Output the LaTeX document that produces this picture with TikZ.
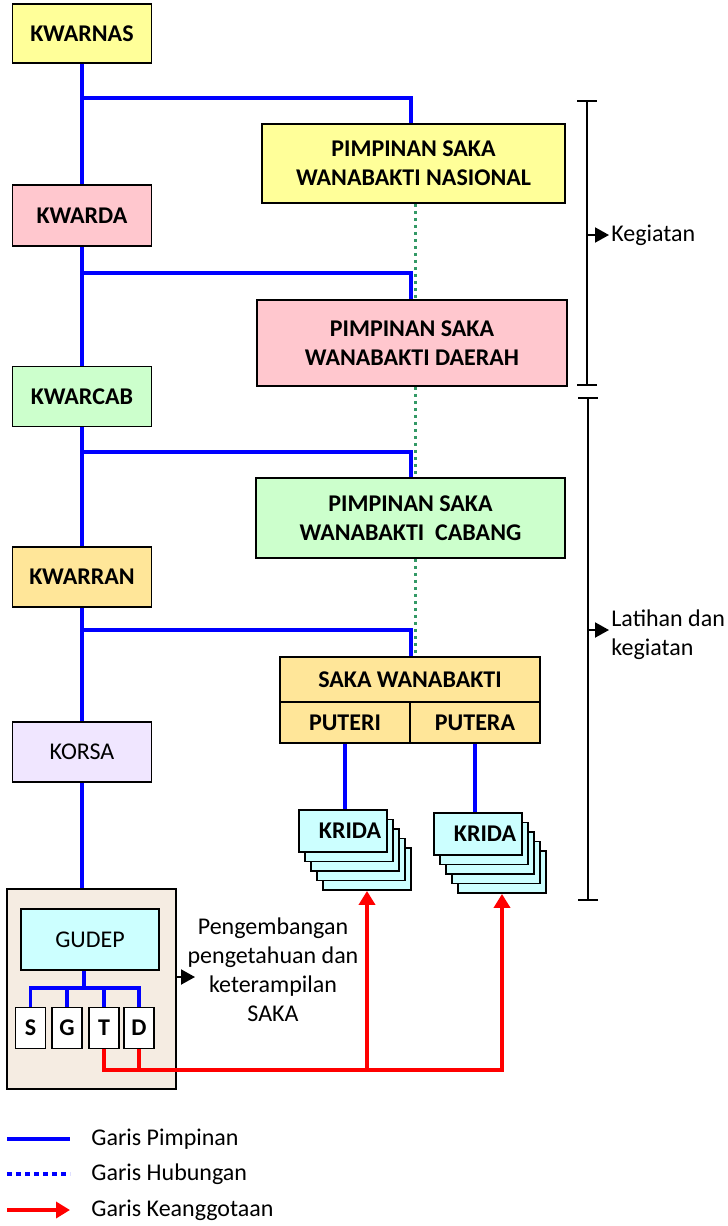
\documentclass[tikz,border=0pt]{standalone}
\usepackage{fontspec}
\setmainfont{Carlito}
\usepackage{tikz}
\usetikzlibrary{positioning}
\usetikzlibrary{arrows.meta}
\usepackage{xcolor}

\definecolor{yellowbox}{HTML}{FFFF99}
\definecolor{pinkbox}{HTML}{FFC7CE}
\definecolor{greenbox}{HTML}{CCFFCC}
\definecolor{orangebox}{HTML}{FFE699}
\definecolor{lilacbox}{HTML}{F0E6FF}
\definecolor{cyanbox}{HTML}{CCFFFF}
\definecolor{linenbox}{HTML}{F5ECE2}
\definecolor{hubgreen}{HTML}{339966}

\begin{document}
\fontsize{12}{14.5}\selectfont
\begin{tikzpicture}[
    x=0.5pt, y=-0.5pt,
    box/.style={draw, line width=0.9pt, inner sep=0pt, align=center, font=\bfseries},
    kwarbox/.style={box, minimum width=69.5pt, minimum height=30pt},
    sakabox/.style={box, minimum width=154.5pt, minimum height=40pt},
    krida/.style={box, fill=cyanbox, minimum width=44pt, minimum height=21pt},
    lead/.style={blue, line width=1.75pt},
    hub/.style={hubgreen, line width=1.6pt, dash pattern=on 1.6pt off 1.9pt},
    hubblue/.style={blue, line width=2pt, dash pattern=on 2.5pt off 2pt},
    member/.style={red, line width=1.75pt},
    memberarrow/.style={-{Triangle[length=7pt,width=8pt]}},
    legmember/.style={member, memberarrow},
    pointer/.style={-{Triangle[length=7pt,width=7.5pt]}, line width=1pt},
    bracket/.style={{Bar[width=10pt]}-{Bar[width=10pt]}, line width=1.2pt}
]
    \useasboundingbox (0,0) rectangle (728,1226);

    % Kwartir column
    \node[kwarbox, fill=yellowbox, minimum height=29.5pt] (kwarnas) at (82,33.5) {KWARNAS};
    \node[kwarbox, fill=pinkbox, minimum height=30.5pt] (kwarda) at (82,215.5) {KWARDA};
    \node[kwarbox, fill=greenbox] (kwarcab) at (82,396.5) {KWARCAB};
    \node[kwarbox, fill=orangebox] (kwarran) at (82,577) {KWARRAN};
    \node[kwarbox, fill=lilacbox, font=\mdseries] (korsa) at (82,752) {KORSA};

    % Pimpinan saka column
    \node[sakabox, fill=yellowbox, minimum width=151.5pt, minimum height=39.5pt] (psn) at (413.5,163.5) {PIMPINAN SAKA\\WANABAKTI NASIONAL};
    \node[sakabox, fill=pinkbox, minimum width=155pt, minimum height=43pt] (psd) at (412,343) {PIMPINAN SAKA\\WANABAKTI DAERAH};
    \node[sakabox, fill=greenbox] (psc) at (410.5,518) {PIMPINAN SAKA\\WANABAKTI~~CABANG};
    \node[box, fill=orangebox, minimum width=130pt, minimum height=22.5pt] (saka) at (410,679.5) {SAKA WANABAKTI};
    \node[box, fill=orangebox, minimum width=65pt, minimum height=20.5pt] (puteri) at (345,722.5) {PUTERI};
    \node[box, fill=orangebox, minimum width=65pt, minimum height=20.5pt] (putera) at (475,722.5) {PUTERA};

    % Krida stacks
    \foreach \k in {4,3,2,1} {
        \node[krida, xshift={3pt*\k}, yshift={-4.75pt*\k}] (krida1-\k) at (343,831) {};
        \node[krida, xshift={3pt*\k}, yshift={-4.75pt*\k}] (krida2-\k) at (478,834) {};
    }
    \node[krida] (krida1) at (343,831) {\hspace*{7pt}KRIDA};
    \node[krida] (krida2) at (478,834) {\hspace*{7pt}KRIDA};

    % Gudep
    \node[box, fill=linenbox, minimum width=84.5pt, minimum height=100pt] (gudepbox) at (91.5,989) {};
    \node[box, fill=cyanbox, font=\mdseries, minimum width=69pt, minimum height=30.5pt] (gudep) at (90,939.5) {GUDEP};
    \foreach \n/\x/\l in {s/30.5/S, g/67/G, t/104/T, d/139/D}
        \node[box, fill=white, minimum width=15pt, minimum height=20.5pt] (\n) at (\x,1028) {\l};

    \node[align=center, inner sep=0pt] (dev) at (273,970) {Pengembangan\\pengetahuan dan\\keterampilan\\SAKA};
    \coordinate (devtip) at (195,977);
    \draw[pointer] (gudepbox.east |- devtip) -- (devtip);

    % Garis pimpinan
    \foreach \a/\b in {kwarnas/kwarda, kwarda/kwarcab, kwarcab/kwarran, kwarran/korsa}
        \draw[lead] (\a.south) -- (\b.north);
    \draw[lead] (korsa.south) -- (korsa.south |- gudepbox.north);

    \coordinate (col) at (411,0);
    \foreach \a/\b/\yy in {kwarnas/psn/98, kwarda/psd/273, kwarcab/psc/452, kwarran/saka/630} {
        \coordinate (\a-j) at (82,\yy);
        \draw[lead] (\a-j) -| (\b.north -| col);
    }
    \draw[lead] (puteri.south) -- (puteri.south |- krida1.north);
    \draw[lead] (putera.south) -- (putera.south |- krida2.north);

    \coordinate (bus) at (84,988);
    \draw[lead] (gudep.south -| bus) -- (bus);
    \draw[lead] (s.north) |- (d.north |- bus) -- (d.north);
    \foreach \n in {g,t}
        \draw[lead] (\n.north) -- (\n.north |- bus);

    % Garis hubungan
    \coordinate (hubcol) at (415.5,0);
    \foreach \a/\b in {psn/psd, psd/psc, psc/saka}
        \draw[hub] (\a.south -| hubcol) -- (\b.north -| hubcol);

    % Garis keanggotaan
    \coordinate (rline) at (0,1070);
    \draw[member, memberarrow] (t.south) |- (krida2-4.south |- rline) -- (krida2-4.south);
    \draw[member] (d.south) -- (d.south |- rline);
    \draw[member, memberarrow] (krida1-4.south |- rline) -- (krida1-4.south);

    % Brackets
    \coordinate (b1top) at (587,100);
    \coordinate (b1bot) at (587,386);
    \coordinate (b2top) at (588,397);
    \coordinate (b2bot) at (588,901);
    \draw[bracket] (b1top) -- (b1bot);
    \draw[bracket] (b2top) -- (b2bot);
    \node[anchor=west, inner sep=0pt] (keg) at (611,235) {Kegiatan};
    \node[anchor=west, inner sep=0pt, align=left] (lat) at (611,635) {Latihan dan\\kegiatan};
    \coordinate (latarrow) at ([yshift=2.5pt]lat.west);
    \draw[pointer, shorten >=1pt] (b1top |- keg.west) -- (keg.west);
    \draw[pointer, shorten >=1pt] (b2top |- latarrow) -- (latarrow);

    % Legend
    \foreach \sty/\yy/\txt [count=\i] in {lead/1139/Garis Pimpinan, hubblue/1174/Garis Hubungan, legmember/1210/Garis Keanggotaan} {
        \coordinate (leg\i a) at (7,\yy);
        \coordinate (leg\i b) at (70,\yy);
        \draw[\sty] (leg\i a) -- (leg\i b);
        \node[anchor=west, inner sep=0pt] (leg\i) at (91,\yy) {\txt};
    }
\end{tikzpicture}
\end{document}
